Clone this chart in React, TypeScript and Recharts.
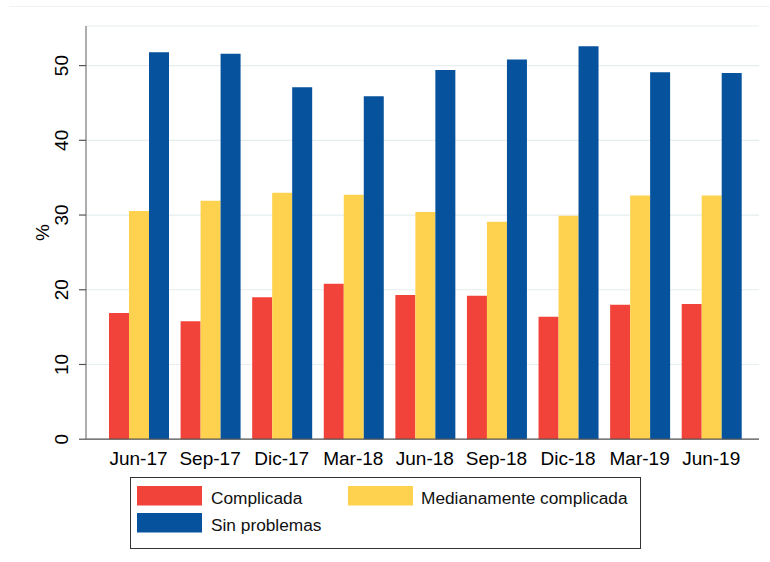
import React from 'react';
import { BarChart, Bar, XAxis, YAxis, CartesianGrid, Legend } from 'recharts';

const categories = ['Jun-17', 'Sep-17', 'Dic-17', 'Mar-18', 'Jun-18', 'Sep-18', 'Dic-18', 'Mar-19', 'Jun-19'];
const complicada = [16.9, 15.8, 19.0, 20.8, 19.3, 19.2, 16.4, 18.0, 18.1];
const medianamente = [30.55, 31.9, 33.0, 32.7, 30.4, 29.1, 29.9, 32.6, 32.6];
const sinProblemas = [51.8, 51.6, 47.1, 45.9, 49.4, 50.8, 52.6, 49.1, 49.0];
const yTicks = [0, 10, 20, 30, 40, 50];

const series = [
  { key: 'complicada', name: 'Complicada', color: '#f1433a' },
  { key: 'medianamente', name: 'Medianamente complicada', color: '#fed24f' },
  { key: 'sinProblemas', name: 'Sin problemas', color: '#06529c' },
];

const data = categories.map((c, i) => ({
  cat: c,
  complicada: complicada[i],
  medianamente: medianamente[i],
  sinProblemas: sinProblemas[i],
}));

const FONT = 'Liberation Sans, Arial, Helvetica, sans-serif';

const YTick = (props: any) => {
  const { x, y, payload } = props;
  const bx = x - 9;
  return (
    <text
      x={bx}
      y={y}
      transform={`rotate(-90 ${bx} ${y})`}
      textAnchor="middle"
      fontSize={19}
      fontFamily={FONT}
      fill="#000"
    >
      {payload.value}
    </text>
  );
};

const XTick = (props: any) => {
  const { x, y, payload } = props;
  return (
    <text x={x} y={y + 26} textAnchor="middle" fontSize={19} fontFamily={FONT} fill="#000">
      {payload.value}
    </text>
  );
};

const renderLegend = () => {
  const items = [
    { s: series[0], sx: 7, sy: 9, tx: 81, ty: 26.5 },
    { s: series[1], sx: 218, sy: 9, tx: 291, ty: 26.5 },
    { s: series[2], sx: 7, sy: 36, tx: 81, ty: 53.5 },
  ];
  return (
    <svg width={511} height={72} style={{ display: 'block' }}>
      <rect x={0.5} y={0.5} width={510} height={71} fill="#fff" stroke="#333" strokeWidth={1} />
      {items.map((it) => (
        <g key={it.s.key}>
          <rect x={it.sx} y={it.sy} width={65} height={19.5} fill={it.s.color} />
          <text x={it.tx} y={it.ty} fontSize={17.3} fontFamily={FONT} fill="#111">
            {it.s.name}
          </text>
        </g>
      ))}
    </svg>
  );
};

const PercentLabel = (p: any) => {
  const vb = p.viewBox || {};
  const lx = (vb.x ?? 0) + (vb.width ?? 86) - 37;
  const ly = (vb.y ?? 0) + (vb.height ?? 0) / 2;
  return (
    <text
      x={lx}
      y={ly}
      transform={`rotate(-90 ${lx} ${ly})`}
      textAnchor="middle"
      fontSize={19}
      fontFamily={FONT}
      fill="#000"
    >
      %
    </text>
  );
};

export default function App() {
  return (
    <div style={{ position: 'absolute', left: 0, top: 0, width: 770, height: 562, background: '#fff' }}>
      <div
        style={{
          position: 'absolute',
          left: 9,
          top: 6,
          width: 761,
          height: 0,
          borderTop: '1px solid #eef3f3',
        }}
      />
      <BarChart
        width={770}
        height={562}
        data={data}
        margin={{ top: 26, right: 11, bottom: 82.8, left: 0 }}
        barGap={0}
        barCategoryGap="8.8%"
      >
        <CartesianGrid vertical={false} stroke="#e6eef0" strokeWidth={1.2} />
        <XAxis
          dataKey="cat"
          height={40}
          tickLine={false}
          tickSize={0}
          tickMargin={0}
          tick={<XTick />}
          axisLine={{ stroke: '#555', strokeWidth: 1.2 }}
          padding={{ left: 16.7, right: 12 }}
          interval={0}
        />
        <YAxis
          width={86}
          domain={[0, 55.3]}
          ticks={yTicks}
          tickSize={7}
          tickLine={{ stroke: '#555', strokeWidth: 1.2 }}
          axisLine={{ stroke: '#777', strokeWidth: 1.2 }}
          tick={<YTick />}
          label={{ content: PercentLabel }}
        />
        <Legend
          layout="horizontal"
          verticalAlign="middle"
          align="center"
          content={renderLegend}
          wrapperStyle={{ left: 130, top: 477, width: 511, height: 72 }}
        />
        {series.map((s) => (
          <Bar key={s.key} dataKey={s.key} name={s.name} fill={s.color} isAnimationActive={false} />
        ))}
      </BarChart>
    </div>
  );
}
